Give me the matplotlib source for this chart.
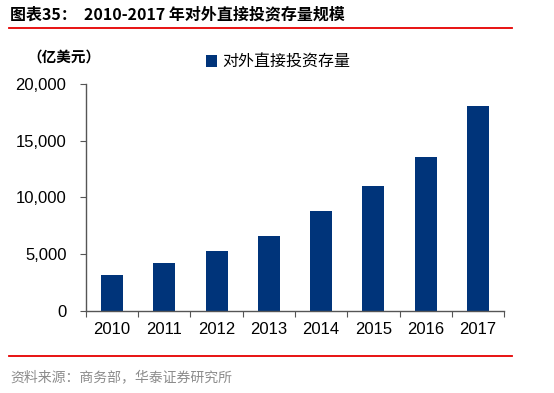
import numpy as np
import matplotlib.pyplot as plt
from matplotlib.lines import Line2D
from matplotlib.ticker import FuncFormatter

plt.rcParams['font.family'] = ['Liberation Sans', 'Noto Sans CJK SC', 'DejaVu Sans']

# Data: outward FDI stock (100 million USD)
years = ['2010', '2011', '2012', '2013', '2014', '2015', '2016', '2017']
stock = [3172, 4248, 5319, 6605, 8826, 10979, 13574, 18090]

bar_color = '#00347A'
cjk = ['Noto Sans CJK SC', 'DejaVu Sans']

fig = plt.figure(figsize=(5.54, 3.93), dpi=100)
ax = fig.add_axes([0.155, 0.2087, 0.755, 0.5776])

x = np.arange(len(years))
ax.bar(x, stock, width=0.42, color=bar_color, label='对外直接投资存量')

ax.set_xlim(-0.5, len(years) - 0.5)
ax.set_ylim(0, 20000)
ax.set_yticks(np.arange(0, 20001, 5000))
ax.yaxis.set_major_formatter(FuncFormatter(lambda v, p: f'{int(v):,}'))

# x ticks between categories, labels centered under bars
ax.set_xticks(np.arange(-0.5, len(years), 1.0))
ax.set_xticklabels([])
ax.set_xticks(x, minor=True)
ax.set_xticklabels(years, minor=True)
ax.tick_params(axis='x', which='minor', length=0, pad=8, labelsize=12)
ax.tick_params(axis='x', which='major', direction='out', length=4, color='#555555')
ax.tick_params(axis='y', direction='out', length=4, color='#555555', labelsize=12, pad=10)

for s in ['top', 'right']:
    ax.spines[s].set_visible(False)
for s in ['left', 'bottom']:
    ax.spines[s].set_color('#555555')
    ax.spines[s].set_linewidth(1.0)

leg = fig.legend(loc='center left', bbox_to_anchor=(0.372, 0.842), frameon=False,
                 handlelength=0.7, handleheight=0.7, handletextpad=0.3,
                 borderaxespad=0, borderpad=0,
                 prop={'family': cjk, 'size': 11.5})

# header / footer
fig.text(0.018, 0.963, '图表35：  2010-2017 年对外直接投资存量规模', fontsize=11.5,
         fontweight='bold', family=cjk, va='center', ha='left')
fig.add_artist(Line2D([0.016, 0.925], [0.928, 0.928], color='#E60000', lw=1.3))
fig.add_artist(Line2D([0.016, 0.925], [0.094, 0.094], color='#E60000', lw=1.3))
fig.text(0.018, 0.04, '资料来源：商务部，华泰证券研究所', fontsize=10, color='#8C8C8C',
         family=cjk, va='center', ha='left')
fig.text(0.05, 0.855, '（亿美元）', fontsize=10.5, fontweight='bold', family=cjk,
         va='center', ha='left')

fig.savefig('out.png', dpi=100)
